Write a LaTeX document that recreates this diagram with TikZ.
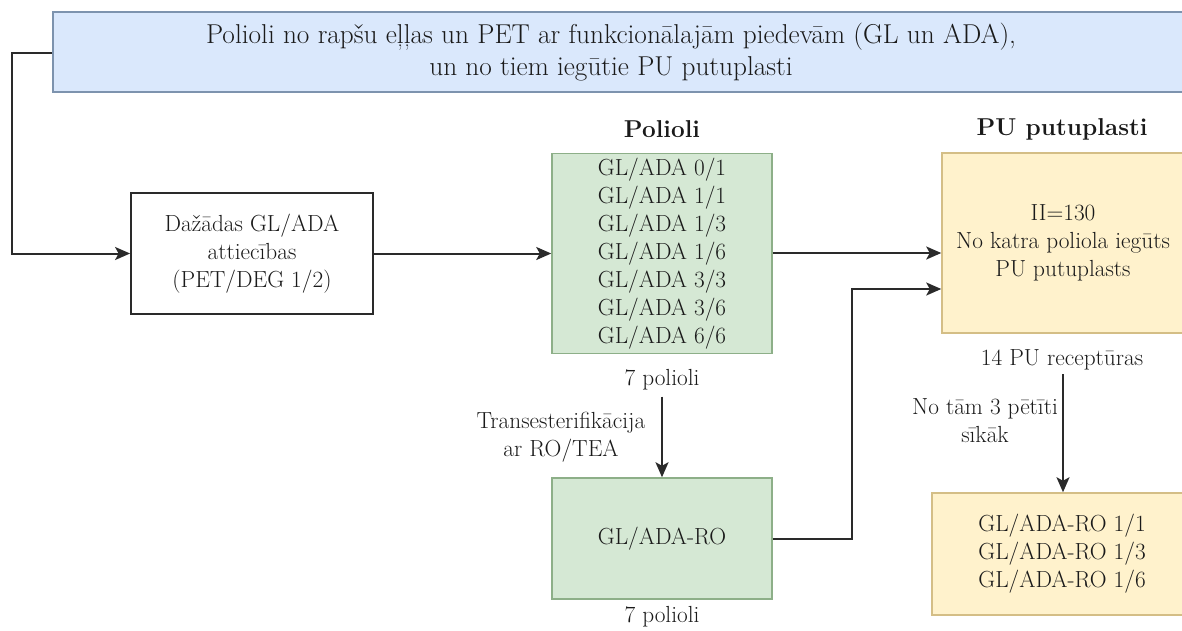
\documentclass[tikz,border=0pt]{standalone}
\usepackage{fontspec}
\usetikzlibrary{arrows.meta}
\definecolor{bluefill}{HTML}{DAE8FC}
\definecolor{blueline}{HTML}{7D93AE}
\definecolor{greenfill}{HTML}{D5E8D4}
\definecolor{greenline}{HTML}{8DAF88}
\definecolor{yellowfill}{HTML}{FFF2CC}
\definecolor{yellowline}{HTML}{D4BE86}
\definecolor{ink}{HTML}{1A1A1A}
\definecolor{wire}{HTML}{2A2A2A}
\tikzset{
  txt/.style={font=\fontsize{23.3}{28}\selectfont, text=ink, align=center, inner sep=0pt},
  bigtxt/.style={font=\fontsize{27.3}{32}\selectfont, text=ink, align=center, inner sep=0pt},
  headtxt/.style={font=\fontsize{24.4}{32}\selectfont\bfseries, text=ink, align=center, inner sep=0pt},
  whitebox/.style={txt, draw=wire, fill=white, line width=1.8pt},
  greenbox/.style={txt, draw=greenline, fill=greenfill, line width=1.5pt},
  yellowbox/.style={txt, draw=yellowline, fill=yellowfill, line width=1.5pt},
  bluebox/.style={draw=blueline, fill=bluefill, line width=1.8pt, inner sep=0pt},
  conn/.style={draw=wire, line width=2pt, -{Stealth[length=15pt,width=13pt,inset=3.5pt]}},
}
\begin{document}
\begin{tikzpicture}[x=1pt,y=-1pt]
\useasboundingbox (0,0) rectangle (1182,630);
\clip (0,0) rectangle (1182,630);
% top banner
\node[bluebox, minimum width=1160pt, minimum height=80pt, anchor=west] (top) at (52,52) {};
\node[bigtxt] (toptext) at (611,52) {Polioli no rapšu eļļas un PET ar funkcionālajām piedevām (GL un ADA),\\un no tiem iegūtie PU putuplasti};
% first box
\node[whitebox, minimum width=242pt, minimum height=121pt] (daz) at (252,253.5) {Dažādas GL/ADA\\attiecības\\(PET/DEG 1/2)};
% polioli
\node[headtxt] (polhead) at (662,129) {Polioli};
\node[greenbox, minimum width=220pt, minimum height=200pt] (pol) at (662,253.5) {GL/ADA 0/1\\GL/ADA 1/1\\GL/ADA 1/3\\GL/ADA 1/6\\GL/ADA 3/3\\GL/ADA 3/6\\GL/ADA 6/6};
\node[txt] (polcount) at (662,380) {7 polioli};
% RO
\node[greenbox, minimum width=220pt, minimum height=121pt] (ro) at (662,538.5) {GL/ADA-RO};
\node[txt] (rocount) at (662,617) {7 polioli};
\node[txt] (trans) at (561,437) {Transesterifikācija\\ar RO/TEA};
% PU
\node[headtxt] (puhead) at (1062,129) {PU putuplasti};
\node[yellowbox, minimum width=242pt, minimum height=180pt] (pu) at (1063,243) {II=130\\No katra poliola iegūts\\PU putuplasts};
\node[txt] (pucount) at (1062,360) {14 PU receptūras};
\node[txt] (sel) at (985,421) {No tām 3 pētīti\\sīkāk};
% final
\node[yellowbox, minimum width=260pt, minimum height=122pt] (fin) at (1062,554) {GL/ADA-RO 1/1\\GL/ADA-RO 1/3\\GL/ADA-RO 1/6};
% connectors
\coordinate (lt) at (12,53);
\coordinate (lb) at (12,253.5);
\draw[conn] (top.west |- lt) -- (lt) -- (lb) -- (daz.west);
\draw[conn] (daz.east) -- (pol.west);
\draw[conn] (pol.east |- 0,253) -- (pu.west |- 0,253);
\draw[conn] (polcount.south) ++(0,6) -- (ro.north);
\coordinate (b1) at (852,538.5);
\coordinate (b2) at (852,289);
\draw[conn] (ro.east) -- (b1) -- (b2) -- (pu.west |- b2);
\draw[conn] (pucount.south) ++(1,4) -- (fin.north -| 1063,0);
\end{tikzpicture}
\end{document}
